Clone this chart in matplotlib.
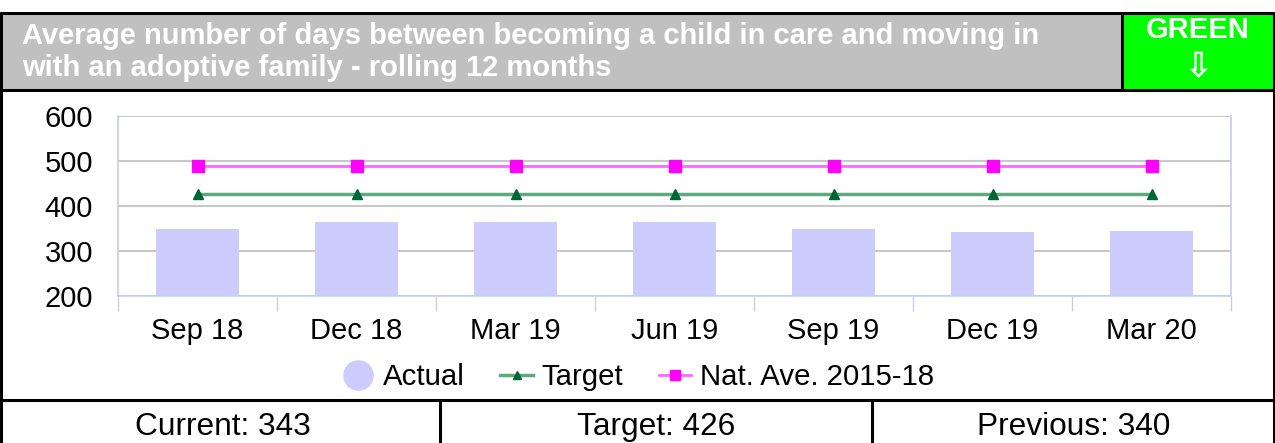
import matplotlib
matplotlib.use("Agg")
import matplotlib.pyplot as plt
from matplotlib.lines import Line2D
from matplotlib.patches import Rectangle

plt.rcParams["font.family"] = ["Liberation Sans", "DejaVu Sans"]

TITLE = "Average number of days between becoming a child in care and moving in\nwith an adoptive family - rolling 12 months"
STATUS = "GREEN"
CATEGORIES = ["Sep 18", "Dec 18", "Mar 19", "Jun 19", "Sep 19", "Dec 19", "Mar 20"]
ACTUAL = [349, 364, 364, 364, 349, 342, 345]
TARGET = [426, 426, 426, 426, 426, 426, 426]
NAT_AVE = [488, 488, 488, 488, 488, 488, 488]
YTICKS = [200, 300, 400, 500, 600]
FOOTER = ["Current: 343", "Target: 426", "Previous: 340"]

W, H = 1275, 443
fig = plt.figure(figsize=(W / 100, H / 100), dpi=100)

# ---- panel frame drawn in pixel coordinates ----
bg = fig.add_axes([0, 0, 1, 1], zorder=0)
bg.set_xlim(0, W); bg.set_ylim(H, 0); bg.axis("off")
bg.add_patch(Rectangle((0, 12), 1122, 78, fc="#c0c0c0", ec="none"))
bg.add_patch(Rectangle((1122, 12), W - 1122, 78, fc="#00ff00", ec="none"))
k = dict(color="black", lw=2.2, solid_capstyle="butt")
bg.plot([0, W], [13, 13], **k)
bg.plot([0, W], [90, 90], **k)
bg.plot([0, W], [400, 400], **k)
bg.plot([1, 1], [12, H], **k)
bg.plot([W - 1, W - 1], [12, H], **k)
bg.plot([1122, 1122], [12, 90], **k)
bg.plot([440, 440], [400, H], **k)
bg.plot([872, 872], [400, H], **k)
bg.text(22, 52, TITLE, color="white", fontsize=21, fontweight="bold",
        va="center", ha="left", linespacing=1.16)
bg.text(1198, 30, STATUS, color="white", fontsize=21, fontweight="bold",
        ha="center", va="center")
bg.text(1198, 67, "\u21e9", color="white", fontsize=25, fontweight="bold",
        ha="center", va="center", family=["DejaVu Sans"])
for xc, txt in zip([223, 656, 1074], FOOTER):
    bg.text(xc, 427, txt, fontsize=22.8, ha="center", va="center")

# ---- chart ----
ax = fig.add_axes([118 / W, 1 - 296 / H, 1113 / W, 180 / H], zorder=1)
ax.patch.set_alpha(0)
x = list(range(len(CATEGORIES)))
ax.bar(x, ACTUAL, width=0.52, color="#ccccff", zorder=2)
ax.plot(x, TARGET, color="#5fa97f", lw=2.5, marker="^", ms=7,
        mfc="#006633", mec="#006633", zorder=3)
ax.plot(x, NAT_AVE, color="#ff66ff", lw=2, marker="s", ms=8,
        mfc="#ff00ff", mec="#ff00ff", zorder=3)
ax.set_xlim(-0.5, len(CATEGORIES) - 0.5)
ax.set_ylim(YTICKS[0], YTICKS[-1])
ax.set_yticks(YTICKS)
ax.set_xticks(x)
ax.set_xticklabels(CATEGORIES)
ax.set_xticks([i - 0.5 for i in range(len(CATEGORIES) + 1)], minor=True)
ax.grid(True, axis="y", color="#c8c8c8", lw=1.5, zorder=1)
ax.tick_params(axis="both", which="major", length=0, labelsize=21)
ax.tick_params(axis="y", pad=18)
ax.tick_params(axis="x", pad=15)
ax.tick_params(axis="x", which="minor", length=11, color="#c8d0e8", width=1)
for s in ("left", "right", "bottom"):
    ax.spines[s].set_color("#c8d0e8")
    ax.spines[s].set_linewidth(1.2)
ax.spines["top"].set_visible(False)

handles = [
    Line2D([], [], ls="none", marker="o", ms=21, color="#ccccff"),
    Line2D([], [], color="#5fa97f", lw=2.5, marker="^", ms=6, mfc="#006633", mec="#006633"),
    Line2D([], [], color="#ff66ff", lw=2, marker="s", ms=7, mfc="#ff00ff", mec="#ff00ff"),
]
fig.legend(handles, ["Actual", "Target", "Nat. Ave. 2015-18"], loc="center",
           bbox_to_anchor=(638 / W, 1 - 377 / H), ncol=3, frameon=False,
           fontsize=21.2, handlelength=1.1, handletextpad=0.3, columnspacing=1.2)

fig.savefig("out.png", dpi=100)
